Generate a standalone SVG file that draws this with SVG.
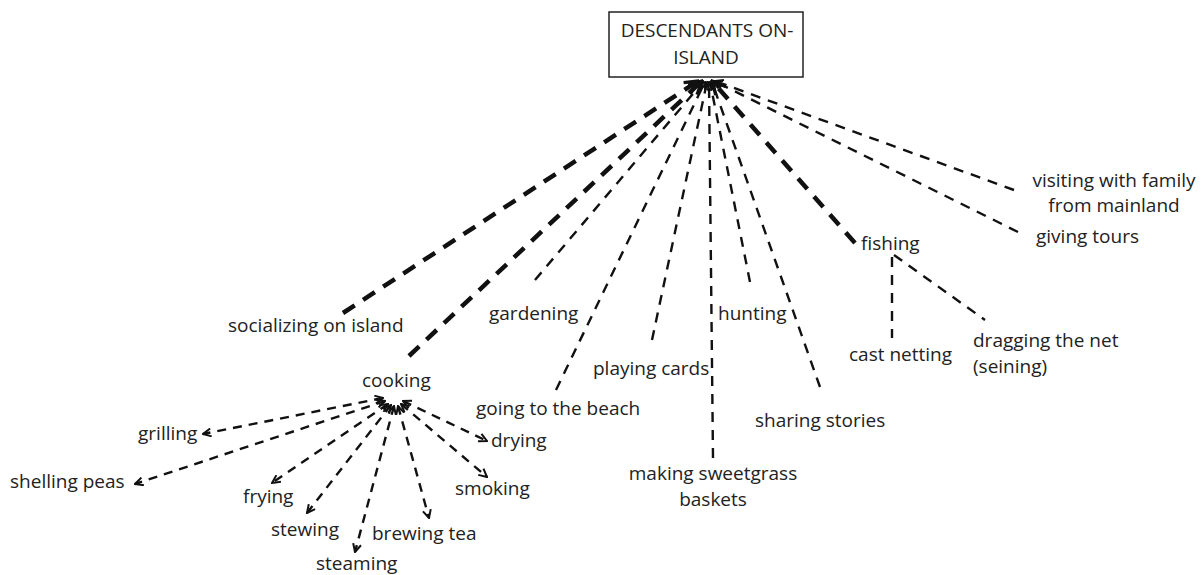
<svg xmlns="http://www.w3.org/2000/svg" width="1202" height="575" viewBox="0 0 1202 575">
<defs>
<style>
text{font-family:"Open Sans","DejaVu Sans",sans-serif;font-size:19px;fill:#222}
.c{text-anchor:middle}
.thick{stroke:#111;stroke-width:4.5;fill:none;stroke-dasharray:14 10}
.thin{stroke:#111;stroke-width:2.4;fill:none;stroke-dasharray:10 8}
.sub{stroke:#111;stroke-width:2.4;fill:none;stroke-dasharray:9 7}
</style>
<marker id="ah" viewBox="0 0 10 10" refX="9" refY="5" markerWidth="4.2" markerHeight="4.2" orient="auto-start-reverse" markerUnits="strokeWidth">
<path d="M1,1 L9,5 L1,9" fill="none" stroke="#111" stroke-width="2" stroke-dasharray="none"/>
</marker>
<marker id="ahs" viewBox="0 0 10 10" refX="9" refY="5" markerWidth="3.6" markerHeight="3.6" orient="auto-start-reverse" markerUnits="strokeWidth">
<path d="M1,1 L9,5 L1,9" fill="none" stroke="#111" stroke-width="2" stroke-dasharray="none"/>
</marker>
</defs>
<rect width="1202" height="575" fill="#fff"/>

<g id="connectors">
<line class="thick" x1="343" y1="313" x2="698" y2="81" marker-end="url(#ahs)"/>
<line class="thick" x1="409" y1="356" x2="702" y2="81" marker-end="url(#ahs)"/>
<line class="thin" x1="535" y1="280" x2="703" y2="82" marker-end="url(#ah)"/>
<line class="thin" x1="556" y1="390" x2="705" y2="82" marker-end="url(#ah)"/>
<line class="thin" x1="652" y1="340" x2="707" y2="82" marker-end="url(#ah)"/>
<line class="thin" x1="713" y1="458" x2="709" y2="82" marker-end="url(#ah)"/>
<line class="thin" x1="750" y1="282" x2="710" y2="82" marker-end="url(#ah)"/>
<line class="thin" x1="820" y1="387" x2="712" y2="82" marker-end="url(#ah)"/>
<line class="thick" x1="855" y1="243" x2="712" y2="81" marker-end="url(#ahs)"/>
<line class="thin" x1="1018" y1="232" x2="714" y2="81" marker-end="url(#ah)"/>
<line class="thin" x1="1014" y1="190" x2="715" y2="81" marker-end="url(#ah)"/>

<line class="thin" x1="892" y1="257" x2="892" y2="338"/>
<line class="thin" x1="894" y1="255" x2="985" y2="320"/>

<line class="sub" x1="383" y1="398" x2="203" y2="434" marker-start="url(#ah)" marker-end="url(#ah)"/>
<line class="sub" x1="385" y1="401" x2="135" y2="484" marker-start="url(#ah)" marker-end="url(#ah)"/>
<line class="sub" x1="388" y1="404" x2="272" y2="483" marker-start="url(#ah)" marker-end="url(#ah)"/>
<line class="sub" x1="391" y1="405" x2="307" y2="513" marker-start="url(#ah)" marker-end="url(#ah)"/>
<line class="sub" x1="394" y1="406" x2="355" y2="552" marker-start="url(#ah)" marker-end="url(#ah)"/>
<line class="sub" x1="398" y1="406" x2="429" y2="518" marker-start="url(#ah)" marker-end="url(#ah)"/>
<line class="sub" x1="401" y1="404" x2="487" y2="477" marker-start="url(#ah)" marker-end="url(#ah)"/>
<line class="sub" x1="403" y1="401" x2="487" y2="441" marker-start="url(#ah)" marker-end="url(#ah)"/>
</g>

<g id="root">
<rect x="609" y="12" width="194" height="65" fill="#fff" stroke="#222" stroke-width="1.5"/>
<text class="c" x="707" y="37">DESCENDANTS ON-</text>
<text class="c" x="706" y="64">ISLAND</text>
</g>
<g id="socializing"><text x="228" y="332">socializing on island</text></g>
<g id="gardening"><text x="489" y="320">gardening</text></g>
<g id="cooking"><text x="362" y="387">cooking</text></g>
<g id="beach"><text x="476" y="415">going to the beach</text></g>
<g id="cards"><text x="593" y="375">playing cards</text></g>
<g id="hunting"><text x="718" y="320">hunting</text></g>
<g id="sweetgrass"><text class="c" x="713" y="480">making sweetgrass</text><text class="c" x="713" y="506">baskets</text></g>
<g id="stories"><text x="755" y="427">sharing stories</text></g>
<g id="fishing"><text x="861" y="250">fishing</text></g>
<g id="castnetting"><text x="849" y="361">cast netting</text></g>
<g id="dragging"><text x="973" y="347">dragging the net</text><text x="973" y="373">(seining)</text></g>
<g id="visiting"><text class="c" x="1114" y="187">visiting with family</text><text class="c" x="1114" y="212">from mainland</text></g>
<g id="tours"><text x="1036" y="243">giving tours</text></g>
<g id="grilling"><text x="138" y="440">grilling</text></g>
<g id="shelling"><text x="10" y="488">shelling peas</text></g>
<g id="frying"><text x="243" y="503">frying</text></g>
<g id="stewing"><text x="271" y="536">stewing</text></g>
<g id="steaming"><text x="316" y="570">steaming</text></g>
<g id="brewing"><text x="372" y="540">brewing tea</text></g>
<g id="smoking"><text x="455" y="495">smoking</text></g>
<g id="drying"><text x="491" y="447">drying</text></g>
</svg>
